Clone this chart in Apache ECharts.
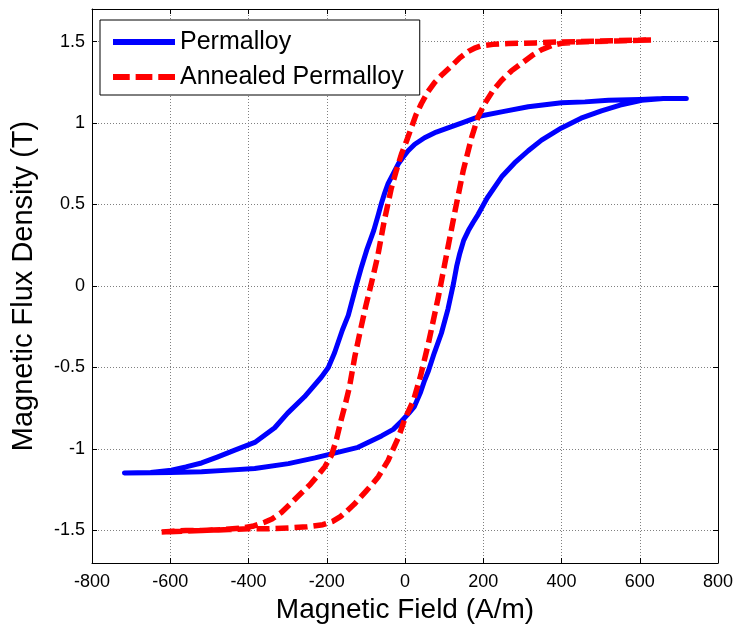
<!DOCTYPE html>
<html>
<head>
<meta charset="utf-8">
<script src="https://cdn.jsdelivr.net/npm/echarts@6/dist/echarts.min.js"></script>
<style>html,body{margin:0;padding:0;background:#fff}#c{width:734px;height:625px}</style>
</head>
<body>
<div id="c"></div>
<script>
// Permalloy loop: lower (ascending) branch then upper (descending) branch
const permalloyH = [-717,-650,-600,-520,-450,-384,-298,-230,-188,-120,-60,-30,-9,10,24,40,50,60,75,93,110,124,132,140,150,162,174,187,210,247,280,315,349,400,450,502,550,605,660,719,
  660,600,520,460,400,315,250,196,144,110,80,50,25,8,-5,-17,-30,-43,-52,-60,-68,-80,-98,-112,-125,-145,-160,-180,-196,-214,-257,-300,-333,-384,-435,-480,-520,-560,-597,-650,-717];
const permalloyB = [-1.147,-1.146,-1.145,-1.14,-1.13,-1.12,-1.09,-1.055,-1.03,-0.99,-0.92,-0.88,-0.83,-0.78,-0.74,-0.65,-0.58,-0.52,-0.41,-0.29,-0.14,0.016,0.12,0.20,0.28,0.34,0.39,0.44,0.54,0.67,0.755,0.83,0.895,0.97,1.03,1.075,1.11,1.14,1.15,1.15,
  1.15,1.145,1.14,1.13,1.125,1.10,1.07,1.045,1.00,0.97,0.945,0.91,0.87,0.83,0.79,0.75,0.69,0.63,0.57,0.51,0.44,0.34,0.22,0.11,0.0,-0.18,-0.27,-0.41,-0.50,-0.56,-0.68,-0.78,-0.87,-0.96,-1.007,-1.05,-1.086,-1.11,-1.13,-1.145,-1.147];
// Annealed Permalloy loop
const annealedH = [-622,-560,-520,-450,-400,-350,-298,-250,-210,-185,-165,-148,-130,-115,-100,-85,-68,-43,-17,-1,22,40,60,85,110,127,149,170,187,204,225,246,272,300,325,349,375,400,443,528,630,
  528,443,400,333,264,225,196,180,162,140,119,96,76,58,42,28,16,4,-9,-22,-35,-53,-70,-86,-100,-112,-128,-142,-152,-163,-175,-188,-205,-222,-243,-265,-290,-316,-340,-359,-390,-418,-470,-520,-570,-622];
const annealedB = [-1.51,-1.50,-1.50,-1.495,-1.49,-1.49,-1.485,-1.478,-1.465,-1.445,-1.415,-1.38,-1.34,-1.30,-1.26,-1.22,-1.17,-1.07,-0.93,-0.82,-0.70,-0.55,-0.35,-0.07,0.24,0.45,0.71,0.91,1.04,1.12,1.20,1.26,1.32,1.37,1.415,1.45,1.475,1.49,1.497,1.503,1.51,
  1.505,1.50,1.498,1.492,1.488,1.483,1.475,1.462,1.44,1.40,1.35,1.30,1.25,1.19,1.12,1.05,0.97,0.89,0.81,0.71,0.60,0.40,0.18,0.016,-0.12,-0.25,-0.43,-0.62,-0.72,-0.82,-0.94,-1.04,-1.11,-1.16,-1.22,-1.27,-1.33,-1.39,-1.43,-1.45,-1.475,-1.485,-1.495,-1.50,-1.505,-1.51];
const yTicks = [-1.5,-1,-0.5,0,0.5,1,1.5];
const seriesNames = ['Permalloy','Annealed Permalloy'];

const zip = (a,b) => a.map((v,i)=>[v,b[i]]);
const FONT = 'Liberation Sans';
const chart = echarts.init(document.getElementById('c'));
const baseAxisLine = {show:true, onZero:false, lineStyle:{color:'#000', width:1}};
const tick = {show:true, inside:true, length:5, lineStyle:{color:'#000'}};
const solidIcon = 'path://M0,0H63V6H0Z';
const dashIcon = 'path://M0,0H17V6H0Z M23,0H40V6H23Z M46,0H63V6H46Z';
chart.setOption({
  animation:false,
  backgroundColor:'#fff',
  grid:{left:92, right:16, top:9, bottom:62, containLabel:false, outerBoundsMode:'none'},
  legend:{
    left:100, top:20, orient:'vertical',
    backgroundColor:'#fff', borderColor:'#000', borderWidth:1, borderRadius:0,
    padding:[9,16,5,13], itemWidth:62, itemHeight:6, itemGap:9,
    textStyle:{fontFamily:FONT, fontSize:25, color:'#000', lineHeight:26},
    data:[{name:seriesNames[0], icon:solidIcon, itemStyle:{color:'#0000ff'}},
          {name:seriesNames[1], icon:dashIcon, itemStyle:{color:'#ff0000'}}]
  },
  xAxis:[{
    type:'value', min:-800, max:800, interval:200,
    name:'Magnetic Field (A/m)', nameLocation:'middle', nameGap:31,
    nameTextStyle:{fontFamily:FONT, fontSize:28, color:'#000'},
    axisLine:baseAxisLine, axisTick:tick,
    axisLabel:{fontFamily:FONT, fontSize:18, color:'#000', margin:10},
    splitLine:{show:true, lineStyle:{color:'#808080', type:[1,2], width:1}}
  },{
    type:'value', position:'top', min:-800, max:800, interval:200,
    axisLine:baseAxisLine, axisTick:tick, axisLabel:{show:false}, splitLine:{show:false}
  }],
  yAxis:[{
    type:'value', min:-1.7, max:1.7,
    name:'Magnetic Flux Density (T)', nameLocation:'middle', nameGap:54,
    nameTextStyle:{fontFamily:FONT, fontSize:29, color:'#000'},
    axisLine:baseAxisLine,
    axisTick:Object.assign({customValues:yTicks}, tick),
    axisLabel:{fontFamily:FONT, fontSize:18, color:'#000', margin:7, customValues:yTicks},
    splitLine:{show:true, lineStyle:{color:'#808080', type:[1,2], width:1}}
  },{
    type:'value', position:'right', min:-1.7, max:1.7,
    axisLine:baseAxisLine,
    axisTick:Object.assign({customValues:yTicks}, tick),
    axisLabel:{show:false, customValues:yTicks}, splitLine:{show:false}
  }],
  series:[{
    name:seriesNames[0], type:'line', data:zip(permalloyH, permalloyB),
    symbol:'none', smooth:false, color:'#0000ff',
    lineStyle:{color:'#0000ff', width:5, cap:'round', join:'round'}
  },{
    name:seriesNames[1], type:'line', data:zip(annealedH, annealedB),
    symbol:'none', smooth:false, color:'#ff0000',
    lineStyle:{color:'#ff0000', width:5.5, type:[13,6], join:'round'}
  }]
});
</script>
</body>
</html>
